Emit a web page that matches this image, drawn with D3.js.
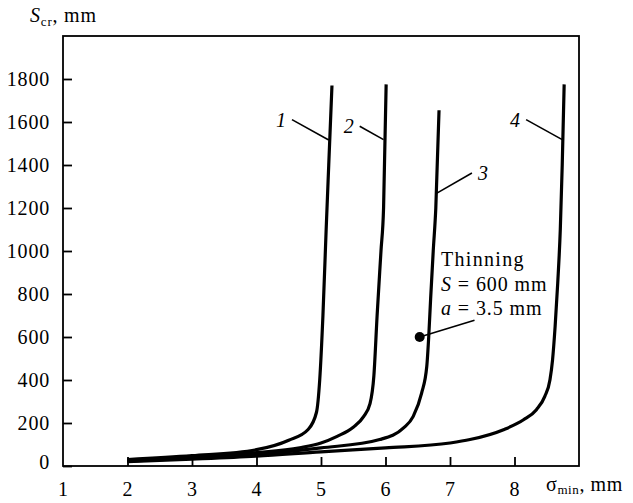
<!DOCTYPE html>
<html>
<head>
<meta charset="utf-8">
<style>
  body { margin: 0; background: #fff; }
</style>
</head>
<body>
<div id="chart"></div>
<script src="https://d3js.org/d3.v7.min.js"></script>
<script>
// values: [sigma_min (mm), S_cr (mm)]
const xTicks = [1, 2, 3, 4, 5, 6, 7, 8];
const yTicks = [0, 200, 400, 600, 800, 1000, 1200, 1400, 1600, 1800];

const curve1 = [[2, 30], [3, 48], [4, 76], [4.5, 120], [4.8, 170], [4.93, 250], [4.98, 400],
  [5.03, 700], [5.08, 1100], [5.12, 1400], [5.17, 1770]];
const curve2 = [[2, 26], [3, 42], [4, 62], [4.67, 85], [5.0, 107], [5.25, 138], [5.5, 180],
  [5.66, 230], [5.76, 290], [5.82, 420], [5.87, 700], [5.93, 1000], [5.97, 1200], [6.01, 1775]];
const curve3 = [[2, 23], [3, 36], [4, 54], [5, 84], [5.91, 123], [6.28, 177], [6.43, 231],
  [6.56, 339], [6.64, 463], [6.67, 600], [6.70, 780], [6.74, 1000], [6.78, 1200], [6.83, 1655]];
const curve4 = [[2, 20], [3, 32], [4, 46], [5, 66], [6, 84], [7, 107], [7.31, 123], [7.83, 169],
  [8.14, 215], [8.34, 262], [8.47, 324], [8.55, 401], [8.59, 494], [8.63, 650], [8.67, 850],
  [8.71, 1100], [8.74, 1400], [8.77, 1775]];
const curves = [curve1, curve2, curve3, curve4];

// curve labels: number, point on curve, end of leader
const curveLabels = ["1", "2", "3", "4"];
const leaderFrom = [[5.12, 1516], [5.97, 1518], [6.79, 1268], [8.74, 1518]];
const leaderTo = [[4.55, 1611], [5.60, 1580], [7.34, 1363], [8.18, 1611]];

const thinningPoint = [6.53, 600];
const thinningLeaderTo = [7.38, 678];
const thinningText = ["Thinning", "S = 600 mm", "a = 3.5 mm"];

const width = 633, height = 503;
const margin = { top: 36, right: 54, bottom: 37, left: 63 };
const FONT = '"Liberation Serif", "Times New Roman", serif';

const svg = d3.select("#chart").append("svg")
    .attr("width", width)
    .attr("height", height);

const x = d3.scaleLinear().domain([1, 9]).range([margin.left, width - margin.right]);
const y = d3.scaleLinear().domain([0, 2000]).range([height - margin.bottom, margin.top]);

// axes, ticks pointing inward
const xAxis = svg.append("g")
    .attr("transform", `translate(0,${y(0)})`)
    .call(d3.axisBottom(x).tickValues(xTicks).tickSize(-9).tickPadding(16).tickFormat(d3.format("d")));
const yAxis = svg.append("g")
    .attr("transform", `translate(${x(1)},0)`)
    .call(d3.axisLeft(y).tickValues(yTicks).tickSize(-9).tickPadding(13).tickFormat(d3.format("d")));

[xAxis, yAxis].forEach(g => {
  g.attr("font-family", null).attr("font-size", null);
  g.select(".domain").remove();
  g.selectAll(".tick line").attr("stroke", "#000").attr("stroke-width", 1.8);
  g.selectAll(".tick text")
    .style("font-family", FONT)
    .style("font-size", "20px")
    .attr("letter-spacing", 0.8)
    .attr("fill", "#000");
});
xAxis.selectAll(".tick").filter(d => d === 1).select("line").remove();
yAxis.selectAll(".tick").filter(d => d === 0).select("text").attr("dy", "0.1em");

// frame
svg.append("rect")
    .attr("x", x(1)).attr("y", y(2000))
    .attr("width", x(9) - x(1)).attr("height", y(0) - y(2000))
    .attr("fill", "none").attr("stroke", "#000").attr("stroke-width", 1.8);

// curves
const line = d3.line()
    .x(d => x(d[0]))
    .y(d => y(d[1]))
    .curve(d3.curveMonotoneX);

svg.append("g")
  .selectAll("path")
  .data(curves)
  .join("path")
    .attr("d", line)
    .attr("fill", "none")
    .attr("stroke", "#000")
    .attr("stroke-width", 3.2)
    .attr("stroke-linejoin", "round");

// leaders and numbers
svg.append("g")
  .selectAll("line")
  .data(curveLabels)
  .join("line")
    .attr("x1", (d, i) => x(leaderFrom[i][0]))
    .attr("y1", (d, i) => y(leaderFrom[i][1]))
    .attr("x2", (d, i) => x(leaderTo[i][0]))
    .attr("y2", (d, i) => y(leaderTo[i][1]))
    .attr("stroke", "#000")
    .attr("stroke-width", 1.6);

svg.append("g")
  .selectAll("text")
  .data(curveLabels)
  .join("text")
    .attr("x", (d, i) => x(leaderTo[i][0]) + (i === 2 ? 6 : -6))
    .attr("y", (d, i) => y(leaderTo[i][1]))
    .attr("dy", "0.35em")
    .attr("text-anchor", (d, i) => i === 2 ? "start" : "end")
    .style("font-family", FONT)
    .style("font-size", "20px")
    .style("font-style", "italic")
    .text(d => d);

// thinning point
svg.append("line")
    .attr("x1", x(thinningPoint[0])).attr("y1", y(thinningPoint[1]))
    .attr("x2", x(thinningLeaderTo[0])).attr("y2", y(thinningLeaderTo[1]))
    .attr("stroke", "#000").attr("stroke-width", 1.6);
svg.append("circle")
    .attr("cx", x(thinningPoint[0])).attr("cy", y(thinningPoint[1]))
    .attr("r", 5).attr("fill", "#000");

const note = svg.append("text")
    .style("font-family", FONT)
    .style("font-size", "20px");
note.append("tspan").attr("x", 441).attr("y", 266).attr("letter-spacing", 1.3).text(thinningText[0]);
const sLine = note.append("tspan").attr("x", 441).attr("y", 291).attr("letter-spacing", 0.9);
sLine.append("tspan").style("font-style", "italic").text(thinningText[1].slice(0, 1));
sLine.append("tspan").text(thinningText[1].slice(1));
const aLine = note.append("tspan").attr("x", 441).attr("y", 315).attr("letter-spacing", 0.9);
aLine.append("tspan").style("font-style", "italic").text(thinningText[2].slice(0, 1));
aLine.append("tspan").text(thinningText[2].slice(1));

// axis titles
const yTitle = svg.append("text").attr("x", 30).attr("y", 22)
    .style("font-family", FONT).style("font-size", "20px").attr("letter-spacing", 0.8);
yTitle.append("tspan").style("font-style", "italic").text("S");
yTitle.append("tspan").style("font-size", "13px").attr("dy", 4).text("cr");
yTitle.append("tspan").attr("dy", -4).text(",  mm");

const xTitle = svg.append("text").attr("x", 546).attr("y", 491)
    .style("font-family", FONT).style("font-size", "20px").attr("letter-spacing", 0.6);
xTitle.append("tspan").text("σ");
xTitle.append("tspan").style("font-size", "13px").attr("dy", 3).text("min");
xTitle.append("tspan").attr("dy", -3).text(", mm");
</script>
</body>
</html>
